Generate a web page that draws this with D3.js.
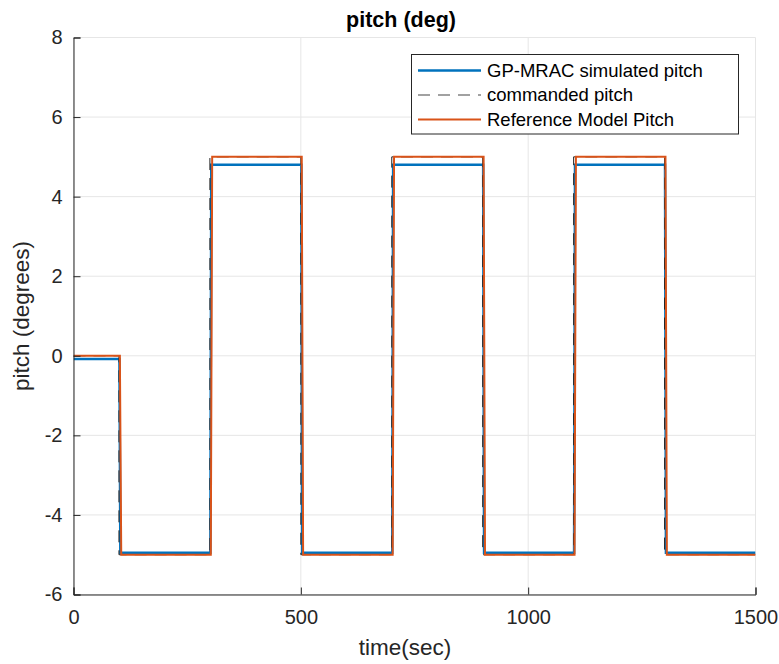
<!DOCTYPE html>
<html><head><meta charset="utf-8">
<script src="https://cdn.jsdelivr.net/npm/d3@7"></script>
<style>body{margin:0;background:#fff;} svg{font-family:"Liberation Sans",Arial,Helvetica,sans-serif;}</style>
</head><body>
<svg id="c" width="779" height="664"></svg>
<script>
// Data
const cmdTime  = [0,100,100,300,300,500,500,700,700,900,900,1100,1100,1300,1300,1500];
const cmdPitch = [0,0,-5,-5,5,5,-5,-5,5,5,-5,-5,5,5,-5,-5];
const refTime  = [0,102,105,302,305,502,505,702,705,902,905,1102,1105,1302,1305,1500];
const refPitch = [0,0,-5,-5,5,5,-5,-5,5,5,-5,-5,5,5,-5,-5];
const simTime  = [0,101,103,301,303,501,503,701,703,901,903,1101,1103,1301,1303,1500];
const simPitch = [-0.08,-0.08,-4.95,-4.95,4.8,4.8,-4.95,-4.95,4.8,4.8,-4.95,-4.95,4.8,4.8,-4.95,-4.95];
const xTicks = [0,500,1000,1500];
const yTicks = [-6,-4,-2,0,2,4,6,8];
const legendLabels = ["GP-MRAC simulated pitch","commanded pitch","Reference Model Pitch"];

const svg = d3.select("#c");
const L=73.5, R=755.5, T=37.5, B=594.5;
const x = d3.scaleLinear().domain([0,1500]).range([L,R]);
const y = d3.scaleLinear().domain([-6,8]).range([B,T]);
const axisCol="#262626";

// grid
svg.append("g").selectAll("line").data(yTicks).join("line")
  .attr("x1",L).attr("x2",R).attr("y1",d=>y(d)).attr("y2",d=>y(d))
  .attr("stroke","#e6e6e6").attr("stroke-width",1);
svg.append("g").selectAll("line").data(xTicks).join("line")
  .attr("x1",d=>x(d)).attr("x2",d=>x(d)).attr("y1",T).attr("y2",B)
  .attr("stroke","#e6e6e6").attr("stroke-width",1);

const line = (tt,vv)=> d3.line().x((d,i)=>x(tt[i])).y((d,i)=>y(vv[i]))(tt);
svg.append("clipPath").attr("id","cp").append("rect").attr("x",L).attr("y",T-3).attr("width",R-L).attr("height",B-T+3);
const plot = svg.append("g").attr("clip-path","url(#cp)");
plot.append("path").attr("d",line(simTime,simPitch)).attr("fill","none").attr("stroke","#0072BD").attr("stroke-width",2.5);
plot.append("path").attr("d",line(cmdTime,cmdPitch)).attr("fill","none").attr("stroke","#222").attr("stroke-width",1).attr("stroke-dasharray","12,8");
plot.append("path").attr("d",line(refTime,refPitch)).attr("fill","none").attr("stroke","#D95319").attr("stroke-width",2);

// axes
const xa = svg.append("g").attr("transform",`translate(0,${B})`)
  .call(d3.axisBottom(x).tickValues(xTicks).tickSize(-7).tickPadding(15).tickFormat(d3.format("d")));
const ya = svg.append("g").attr("transform",`translate(${L},0)`)
  .call(d3.axisLeft(y).tickValues(yTicks).tickSize(-7).tickPadding(11).tickFormat(d=>d<0?"-"+Math.abs(d):d));
[xa,ya].forEach(a=>{
  a.select(".domain").attr("stroke",axisCol).attr("stroke-width",1);
  a.selectAll(".tick line").attr("stroke",axisCol);
  a.selectAll(".tick text").attr("fill",axisCol).attr("font-size",20).attr("font-family","Liberation Sans, Arial, sans-serif");
});
xa.selectAll(".tick text").attr("dy","0.71em");

// labels
svg.append("text").attr("x",401).attr("y",27).attr("text-anchor","middle").attr("font-size",21.5).attr("font-weight","bold").attr("fill","#000").text("pitch (deg)");
svg.append("text").attr("x",405).attr("y",655).attr("text-anchor","middle").attr("font-size",22.5).attr("fill",axisCol).text("time(sec)");
svg.append("text").attr("transform",`translate(29,${(T+B)/2}) rotate(-90)`).attr("text-anchor","middle").attr("font-size",22.5).attr("fill",axisCol).text("pitch (degrees)");

// legend
const lg = svg.append("g");
lg.append("rect").attr("x",411.5).attr("y",54.5).attr("width",327).attr("height",79.5).attr("fill","#fff").attr("stroke",axisCol).attr("stroke-width",1);
const styles=[{c:"#0072BD",w:2.5,d:null},{c:"#444",w:1.2,d:"12,8"},{c:"#D95319",w:2}];
legendLabels.forEach((t,i)=>{
  const yy = 70.5 + i*24.5;
  lg.append("line").attr("x1",418).attr("x2",481).attr("y1",yy).attr("y2",yy).attr("stroke",styles[i].c).attr("stroke-width",styles[i].w).attr("stroke-dasharray",styles[i].d);
  lg.append("text").attr("x",487).attr("y",yy).attr("dy","0.35em").attr("font-size",18.5).attr("fill","#000").text(t);
});
</script>
</body></html>
